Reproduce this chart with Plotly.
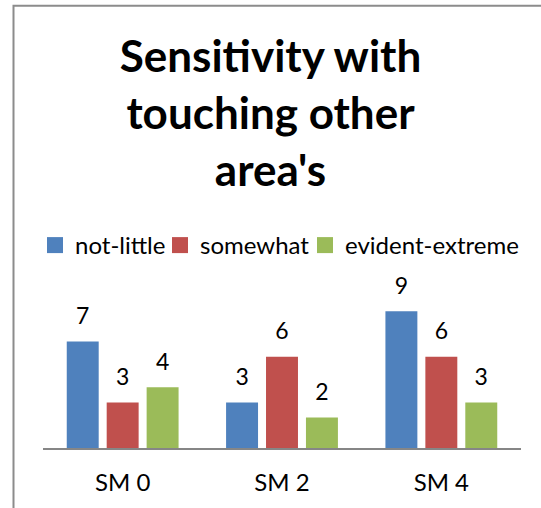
import plotly.graph_objects as go

categories = ["SM 0", "SM 2", "SM 4"]
series_names = ["not-little", "somewhat", "evident-extreme"]
not_little = [7, 3, 9]
somewhat = [3, 6, 6]
evident_extreme = [4, 2, 3]
colors = ["#4F81BD", "#C0504D", "#9BBB59"]

FONT = "Lato"
W, H = 541, 508
ml, mr, mt, mb = 43, 20, 296, 60
pw = W - ml - mr
ph = H - mt - mb
BARGAP = 0.248
legend_widths = [80, 100, None]

fig = go.Figure()
all_vals = [not_little, somewhat, evident_extreme]
for i, (name, vals, col) in enumerate(zip(series_names, all_vals, colors)):
    fig.add_trace(go.Bar(
        x=categories, y=vals, name=name,
        marker=dict(color=col, line=dict(width=0)),
        hoverinfo="skip", showlegend=False, offsetgroup=f"g{i}",
    ))
# value labels, grouped like the bars
for i, (name, vals) in enumerate(zip(series_names, all_vals)):
    fig.add_trace(go.Scatter(
        x=categories, y=vals, mode="markers+text",
        text=[str(v) for v in vals], textposition="top center",
        textfont=dict(family=FONT, size=23, color="#000000"),
        marker=dict(size=17, color="rgba(0,0,0,0)"),
        showlegend=False, hoverinfo="skip", cliponaxis=False,
        offsetgroup=f"g{i}",
    ))
# legend entries with square keys (share offset groups with the labels)
for i, (name, col, lw) in enumerate(zip(series_names, colors, legend_widths)):
    fig.add_trace(go.Scatter(
        x=[None], y=[None], mode="markers", name=name,
        marker=dict(symbol="square", size=16, color=col),
        legendwidth=lw, offsetgroup=f"g{i}", hoverinfo="skip",
    ))

fig.update_layout(
    width=W, height=H,
    margin=dict(l=ml, r=mr, t=mt, b=mb, autoexpand=False),
    paper_bgcolor="white", plot_bgcolor="white",
    barmode="group", bargap=BARGAP, bargroupgap=0.2,
    scattermode="group", scattergap=BARGAP,
    font=dict(family=FONT, color="#000000"),
    title=dict(text="<b>Sensitivity with<br>touching other<br>area's</b>",
               font=dict(family=FONT, size=44, color="#000000"),
               x=0.5, xanchor="center", xref="container",
               y=1 - 72 / H, yanchor="middle", yref="container"),
    showlegend=True,
    legend=dict(orientation="h", x=(35 - ml) / pw, xanchor="left",
                y=(447.5 - 245) / ph, yanchor="middle",
                font=dict(family=FONT, size=24, color="#000000"),
                bgcolor="rgba(0,0,0,0)", itemclick=False, itemdoubleclick=False),
    xaxis=dict(showline=True, linecolor="#868686", linewidth=2, ticks="",
               showgrid=False, tickfont=dict(family=FONT, size=24, color="#000000"),
               ticklabelstandoff=12),
    yaxis=dict(range=[0, 10], visible=False, showgrid=False),
    shapes=[dict(type="rect", xref="paper", yref="paper",
                 x0=(13.5 - ml) / pw, x1=(W + 10 - ml) / pw,
                 y0=(447.5 - (H + 10)) / ph, y1=(447.5 - 5.2) / ph,
                 line=dict(color="#8C8C8C", width=2), fillcolor="rgba(0,0,0,0)",
                 layer="below")],
)

fig.write_html("out.html", config={"displayModeBar": False},
               post_script="document.body.style.margin='0';document.body.style.overflow='hidden';")
